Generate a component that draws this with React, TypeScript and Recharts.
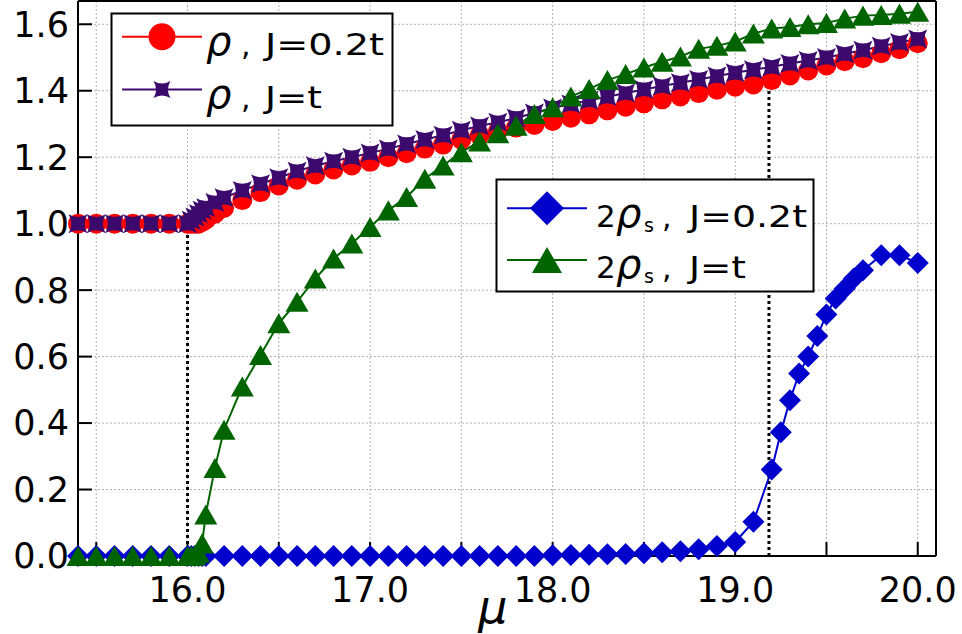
import React from "react";
import { CartesianGrid, Line, LineChart, ReferenceLine, XAxis, YAxis } from "recharts";

// chemical potential grid used by rho (both J) and 2 rho_s (J=t)
const MU_MAIN = [
  15.4, 15.5, 15.6, 15.7, 15.8, 15.9, 16.0, 16.02, 16.04, 16.06, 16.08, 16.1, 16.15, 16.2,
  16.3, 16.4, 16.5, 16.6, 16.7, 16.8, 16.9, 17.0, 17.1, 17.2, 17.3, 17.4, 17.5, 17.6, 17.7,
  17.8, 17.9, 18.0, 18.1, 18.2, 18.3, 18.4, 18.5, 18.6, 18.7, 18.8, 18.9, 19.0, 19.1, 19.2,
  19.3, 19.4, 19.5, 19.6, 19.7, 19.8, 19.9, 20.0,
];

const RHO_J02 = [
  1.0, 1.0, 1.0, 1.0, 1.0, 1.0, 1.0, 1.0, 1.0, 1.0, 1.005, 1.012, 1.03, 1.047,
  1.071, 1.095, 1.115, 1.132, 1.148, 1.163, 1.175, 1.186, 1.2, 1.212, 1.226, 1.238, 1.253, 1.266, 1.278,
  1.289, 1.297, 1.309, 1.319, 1.329, 1.341, 1.352, 1.362, 1.374, 1.383, 1.393, 1.403, 1.412, 1.419, 1.432,
  1.446, 1.461, 1.476, 1.489, 1.498, 1.513, 1.525, 1.543,
];

const RHO_J1 = [
  1.0, 1.0, 1.0, 1.0, 1.0, 1.0, 1.0, 1.01, 1.02, 1.03, 1.04, 1.048, 1.064, 1.078,
  1.1, 1.12, 1.138, 1.158, 1.174, 1.188, 1.2, 1.213, 1.225, 1.24, 1.253, 1.266, 1.281, 1.294, 1.305,
  1.318, 1.333, 1.348, 1.36, 1.371, 1.382, 1.393, 1.404, 1.414, 1.424, 1.434, 1.444, 1.454, 1.463, 1.472,
  1.482, 1.491, 1.5, 1.511, 1.522, 1.534, 1.545, 1.556,
];

const RHOS_J1 = [
  0, 0, 0, 0, 0, 0, 0, 0, 0.003, 0.01, 0.038, 0.125, 0.265, 0.38,
  0.51, 0.605, 0.7, 0.765, 0.835, 0.895, 0.94, 0.99, 1.04, 1.08, 1.135, 1.175, 1.215, 1.247, 1.272,
  1.295, 1.33, 1.35, 1.383, 1.405, 1.432, 1.45, 1.47, 1.487, 1.503, 1.526, 1.535, 1.548, 1.572, 1.587,
  1.592, 1.6, 1.604, 1.617, 1.626, 1.628, 1.632, 1.638,
];

// 2 rho_s for J=0.2t is sampled more finely near its onset
const MU_RHOS_J02 = [
  15.4, 15.5, 15.6, 15.7, 15.8, 15.9, 16.0, 16.02, 16.04, 16.06, 16.08, 16.1, 16.2, 16.3,
  16.4, 16.5, 16.6, 16.7, 16.8, 16.9, 17.0, 17.1, 17.2, 17.3, 17.4, 17.5, 17.6, 17.7, 17.8,
  17.9, 18.0, 18.1, 18.2, 18.3, 18.4, 18.5, 18.6, 18.7, 18.8, 18.9, 19.0, 19.1, 19.2, 19.25,
  19.3, 19.35, 19.4, 19.45, 19.5, 19.55, 19.6, 19.65, 19.7, 19.8, 19.9, 20.0,
];

const RHOS_J02 = [
  0, 0, 0, 0, 0, 0, 0, 0, 0, 0, 0, 0, 0, 0,
  0, 0, 0, 0, 0, 0, 0, 0, 0, 0, 0, 0, 0, 0, 0,
  0, 0.002, 0.003, 0.004, 0.005, 0.006, 0.008, 0.011, 0.014, 0.02, 0.03, 0.042, 0.103, 0.26, 0.372,
  0.469, 0.549, 0.6, 0.662, 0.727, 0.775, 0.805, 0.835, 0.86, 0.905, 0.905, 0.882,
];

const X_TICKS = [15.5, 16.0, 16.5, 17.0, 17.5, 18.0, 18.5, 19.0, 19.5, 20.0];
const Y_TICKS = [0, 0.2, 0.4, 0.6, 0.8, 1.0, 1.2, 1.4, 1.6];

// dotted markers of the transitions
const CRITICAL_MU = [16.0, 19.185];
const CRITICAL_TOP = [1.0, 1.43];

const RED = "#ff0000";
const PURPLE = "#3c0a6c";
const BLUE = "#0000cc";
const GREEN = "#006400";
const FONT = "'DejaVu Sans', sans-serif";

type Shape = "circle" | "star" | "diamond" | "triangle";

function marker(shape: Shape, cx: number, cy: number, s: number, color: string, key?: string | number) {
  if (shape === "circle") return <circle key={key} cx={cx} cy={cy} r={s} fill={color} />;
  if (shape === "diamond")
    return <path key={key} d={`M${cx},${cy - s}L${cx + s},${cy}L${cx},${cy + s}L${cx - s},${cy}Z`} fill={color} />;
  if (shape === "triangle") {
    const h = s * 0.87;
    return <path key={key} d={`M${cx},${cy - h}L${cx + s},${cy + h}L${cx - s},${cy + h}Z`} fill={color} />;
  }
  const d = s * 0.4;
  return (
    <path
      key={key}
      d={`M${cx - s},${cy - s}Q${cx},${cy - d} ${cx + s},${cy - s}Q${cx + d},${cy} ${cx + s},${cy + s}Q${cx},${cy + d} ${cx - s},${cy + s}Q${cx - d},${cy} ${cx - s},${cy - s}Z`}
      fill={color}
    />
  );
}

function toPoints(mu: number[], v: number[]) {
  return mu.map((m, i) => ({ mu: m, v: v[i] }));
}

const SERIES = [
  { name: "rho02", data: toPoints(MU_MAIN, RHO_J02), color: RED, shape: "circle" as Shape, size: 10 },
  { name: "rho1", data: toPoints(MU_MAIN, RHO_J1), color: PURPLE, shape: "star" as Shape, size: 9.5 },
  { name: "rhos02", data: toPoints(MU_RHOS_J02, RHOS_J02), color: BLUE, shape: "diamond" as Shape, size: 11 },
  { name: "rhos1", data: toPoints(MU_MAIN, RHOS_J1), color: GREEN, shape: "triangle" as Shape, size: 11.5 },
];

function DottedSegment(p: any) {
  return (
    <line
      x1={p.x1}
      y1={p.y1}
      x2={p.x2}
      y2={p.y2}
      stroke="#000"
      strokeWidth={3}
      strokeDasharray="3 3"
    />
  );
}

function LegendRow(props: {
  y: number; lineX: number; color: string; shape: Shape; size: number;
  two?: boolean; sub?: boolean; textX: number; label: string; labelLen: number;
}) {
  const { y, lineX, color, shape, size, two, sub, textX, label, labelLen } = props;
  const base = y + 18.3;
  const x = textX;
  return (
    <g>
      <line x1={lineX} x2={lineX + 80} y1={y} y2={y} stroke={color} strokeWidth={2} />
      {marker(shape, lineX + 40, y, size, color)}
      {two && (
        <text x={x} y={base} fontSize={31} fontFamily={FONT}>2</text>
      )}
      <text x={two ? x + 20 : x} y={base} fontSize={40} fontStyle="italic" fontFamily={FONT}>ρ</text>
      {sub && (
        <text x={x + 48} y={base + 5} fontSize={19} fontFamily={FONT}>s</text>
      )}
      <text x={two ? x + 66 : x + 35} y={base} fontSize={30} fontFamily={FONT}>,</text>
      <text
        x={two ? x + 93 : x + 59}
        y={base}
        fontSize={30}
        fontFamily={FONT}
        textLength={labelLen}
        lengthAdjust="spacingAndGlyphs"
      >
        {label}
      </text>
    </g>
  );
}

export default function App() {
  return (
    <div style={{ position: "absolute", left: 0, top: 0, width: 962, height: 634, background: "#fff" }}>
      <LineChart width={962} height={634} margin={{ top: 0, right: 0, bottom: 0, left: 0 }}>
        <CartesianGrid stroke="#b0b0b0" strokeDasharray="2 2" strokeWidth={1} />
        <XAxis
          type="number"
          dataKey="mu"
          domain={[15.4, 20.1]}
          ticks={X_TICKS}
          height={78}
          tickSize={-14}
          tickMargin={35}
          tickFormatter={(v: number) => (Number.isInteger(v) ? v.toFixed(1) : "")}
          tick={{ fontSize: 35, fill: "#000", fontFamily: FONT }}
          axisLine={{ stroke: "#000", strokeWidth: 2 }}
          tickLine={{ stroke: "#000", strokeWidth: 2 }}
          label={{
            content: (p: any) => {
              const vb = p.viewBox || { x: 78, y: 556, width: 858, height: 78 };
              return (
                <text x={vb.x + vb.width / 2 - 14} y={vb.y + vb.height - 11} textAnchor="middle" fontSize={46} fontStyle="italic" fontFamily={FONT}>
                  μ
                </text>
              );
            },
          }}
        />
        <XAxis
          xAxisId="top"
          orientation="top"
          type="number"
          domain={[15.4, 20.1]}
          ticks={X_TICKS}
          height={1}
          tickSize={-14}
          tickFormatter={() => ""}
          axisLine={{ stroke: "#000", strokeWidth: 2 }}
          tickLine={{ stroke: "#000", strokeWidth: 2 }}
        />
        <YAxis
          type="number"
          domain={[0, 1.67]}
          ticks={Y_TICKS}
          width={78}
          tickSize={-14}
          tickMargin={23}
          tickFormatter={(v: number) => v.toFixed(1)}
          tick={{ fontSize: 35, fill: "#000", fontFamily: FONT }}
          axisLine={{ stroke: "#000", strokeWidth: 2 }}
          tickLine={{ stroke: "#000", strokeWidth: 2 }}
        />
        <YAxis
          yAxisId="right"
          orientation="right"
          type="number"
          domain={[0, 1.67]}
          ticks={Y_TICKS}
          width={26}
          tickSize={-14}
          tickFormatter={() => ""}
          axisLine={{ stroke: "#000", strokeWidth: 2 }}
          tickLine={{ stroke: "#000", strokeWidth: 2 }}
        />
        {CRITICAL_MU.map((m, i) => (
          <ReferenceLine
            key={m}
            segment={[{ x: m, y: 0 }, { x: m, y: CRITICAL_TOP[i] }]}
            stroke="#000"
            strokeWidth={3}
            strokeDasharray="3 3"
            shape={DottedSegment}
          />
        ))}
        {SERIES.map((s) => (
          <Line
            key={s.name}
            data={s.data}
            dataKey="v"
            type="linear"
            stroke={s.color}
            strokeWidth={2}
            isAnimationActive={false}
            activeDot={false}
            dot={(p: any) => marker(s.shape, p.cx, p.cy, s.size, s.color, `${s.name}-${p.index}`)}
          />
        ))}
      </LineChart>
      <svg width={962} height={634} style={{ position: "absolute", left: 0, top: 0, pointerEvents: "none" }}>
        <rect x={111.5} y={13.5} width={281} height={112} fill="#fff" stroke="#000" strokeWidth={2} />
        <LegendRow y={36.7} lineX={122} color={RED} shape="circle" size={13.5} textX={206} label="J=0.2t" labelLen={119} />
        <LegendRow y={89.5} lineX={122} color={PURPLE} shape="star" size={8.5} textX={206} label="J=t" labelLen={57} />
        <rect x={496.5} y={179.5} width={317} height={112} fill="#fff" stroke="#000" strokeWidth={2} />
        <LegendRow y={208.3} lineX={507} color={BLUE} shape="diamond" size={17} two sub textX={596} label="J=0.2t" labelLen={118} />
        <LegendRow y={260} lineX={507} color={GREEN} shape="triangle" size={15} two sub textX={596} label="J=t" labelLen={57} />
      </svg>
    </div>
  );
}
